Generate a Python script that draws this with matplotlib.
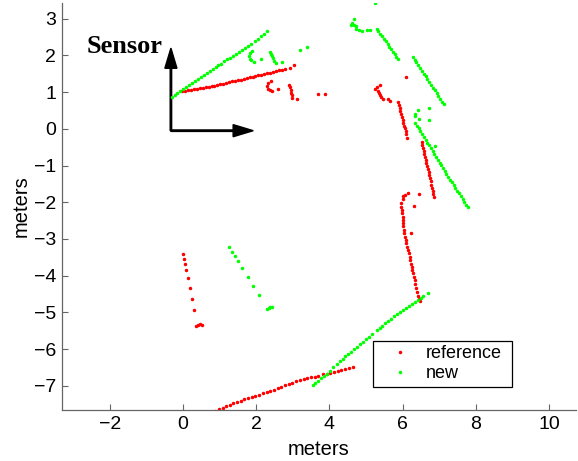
import numpy as np
import matplotlib.pyplot as plt

plt.rcParams['font.family'] = ['Liberation Sans', 'DejaVu Sans']

# scan points, reference scan (x, y in meters)
ref_points = [
    # wall seen straight ahead
    (-0.02, 1.02), (0.06, 1.03), (0.14, 1.05), (0.22, 1.06), (0.30, 1.08), (0.38, 1.09),
    (0.46, 1.10), (0.54, 1.12), (0.62, 1.13), (0.70, 1.15), (0.78, 1.16), (0.86, 1.18),
    (0.94, 1.20), (1.02, 1.22), (1.10, 1.23), (1.18, 1.25), (1.26, 1.27), (1.34, 1.29),
    (1.42, 1.31), (1.50, 1.33), (1.58, 1.34), (1.66, 1.36), (1.74, 1.38), (1.82, 1.40),
    (1.90, 1.42), (1.98, 1.44), (2.06, 1.46), (2.14, 1.48), (2.22, 1.50), (2.30, 1.51),
    (2.38, 1.53), (2.46, 1.55), (2.54, 1.57), (2.62, 1.59), (2.70, 1.61), (2.79, 1.63),
    (2.92, 1.67), (3.03, 1.73),
    # small arc and post
    (2.40, 1.30), (2.33, 1.24), (2.30, 1.16), (2.32, 1.09), (2.38, 1.05), (2.44, 1.04),
    (2.60, 1.08),
    (2.90, 1.20), (2.92, 1.13), (2.94, 1.06), (2.95, 0.99), (2.97, 0.92), (2.99, 0.85),
    (3.11, 0.81),
    (3.68, 0.94), (3.88, 0.94), (6.09, 1.41),
    # right side
    (5.38, 1.20), (5.30, 1.14), (5.25, 1.08), (5.33, 1.04), (5.36, 0.98), (5.37, 0.93),
    (5.40, 0.87), (5.46, 0.82), (5.59, 0.80), (5.67, 0.76),
    (5.88, 0.73), (5.90, 0.65), (5.92, 0.57), (5.94, 0.49), (5.96, 0.41), (5.98, 0.33),
    (6.00, 0.25), (6.02, 0.17), (6.04, 0.09), (6.06, 0.01), (6.08, -0.07), (6.10, -0.15),
    (6.13, -0.25),
    (6.52, -0.35), (6.54, -0.43), (6.56, -0.52), (6.58, -0.60), (6.59, -0.68), (6.61, -0.77),
    (6.63, -0.85), (6.65, -0.93), (6.67, -1.02), (6.69, -1.10), (6.71, -1.18), (6.73, -1.27),
    (6.75, -1.35), (6.77, -1.43), (6.78, -1.52), (6.80, -1.60), (6.82, -1.68), (6.84, -1.77),
    (6.86, -1.85),
    (6.14, -1.76), (6.06, -1.79), (6.02, -1.84), (6.00, -1.90), (6.45, -1.78), (6.30, -2.09),
    (6.23, -2.83),
    (5.96, -2.03), (5.97, -2.12), (5.98, -2.21), (5.99, -2.30), (6.00, -2.39), (6.00, -2.48),
    (6.01, -2.57), (6.02, -2.66), (6.03, -2.75), (6.04, -2.85), (6.06, -2.94), (6.08, -3.03),
    (6.10, -3.12), (6.12, -3.21), (6.14, -3.30), (6.17, -3.39), (6.19, -3.48), (6.21, -3.58),
    (6.23, -3.67), (6.25, -3.76), (6.27, -3.85), (6.28, -3.94), (6.30, -4.03), (6.33, -4.13),
    (6.35, -4.24), (6.38, -4.34), (6.40, -4.45), (6.43, -4.55), (6.46, -4.64), (6.48, -4.70),
    # lower left
    (-0.01, -3.41), (0.03, -3.55), (0.05, -3.69), (0.09, -3.85), (0.14, -4.05), (0.18, -4.34),
    (0.24, -4.63), (0.29, -4.93), (0.36, -5.37), (0.42, -5.34), (0.46, -5.33), (0.51, -5.35),
    # bottom wall
    (0.78, -7.72), (0.88, -7.68), (0.98, -7.64), (1.08, -7.60), (1.18, -7.56), (1.28, -7.51),
    (1.38, -7.47), (1.48, -7.44), (1.58, -7.41), (1.68, -7.37), (1.78, -7.34), (1.88, -7.31),
    (1.98, -7.28), (2.08, -7.25), (2.18, -7.21), (2.29, -7.18), (2.39, -7.14), (2.49, -7.11),
    (2.59, -7.07), (2.69, -7.03), (2.79, -6.99), (2.89, -6.96), (2.99, -6.92), (3.09, -6.88),
    (3.20, -6.84), (3.30, -6.82), (3.40, -6.79), (3.50, -6.77), (3.60, -6.75), (3.70, -6.72),
    (3.83, -6.69), (3.93, -6.67), (4.03, -6.64), (4.13, -6.62), (4.23, -6.59), (4.33, -6.57),
    (4.43, -6.55), (4.53, -6.52), (4.65, -6.49),
]

# scan points, new scan
new_points = [
    (-0.31, 0.88), (-0.23, 0.93), (-0.15, 0.99), (-0.07, 1.04), (0.01, 1.09), (0.09, 1.15),
    (0.17, 1.20), (0.25, 1.25), (0.33, 1.31), (0.41, 1.36), (0.49, 1.41), (0.57, 1.46),
    (0.65, 1.52), (0.73, 1.57), (0.81, 1.62), (0.89, 1.68), (0.97, 1.73), (1.05, 1.78),
    (1.13, 1.84), (1.21, 1.89), (1.29, 1.94), (1.37, 1.99), (1.45, 2.05), (1.53, 2.10),
    (1.61, 2.15), (1.69, 2.21), (1.77, 2.26), (1.85, 2.31), (1.97, 2.39), (2.05, 2.45),
    (2.13, 2.52), (2.21, 2.59), (2.29, 2.66),
    (1.89, 2.13), (1.82, 2.06), (1.80, 1.98), (1.82, 1.91), (1.85, 1.87), (1.95, 1.81),
    (2.12, 1.90),
    (2.38, 2.10), (2.41, 2.04), (2.44, 1.98), (2.47, 1.92), (2.50, 1.86), (2.54, 1.79),
    (2.70, 1.82),
    (3.20, 2.14), (3.38, 2.23),
    (5.26, 3.44), (4.67, 3.00), (4.61, 2.89), (4.59, 2.83), (4.68, 2.84), (4.72, 2.80),
    (4.74, 2.73), (4.81, 2.68), (4.88, 2.66), (5.02, 2.69), (5.11, 2.69),
    (5.29, 2.73), (5.34, 2.66), (5.39, 2.59), (5.44, 2.52), (5.49, 2.45), (5.54, 2.38),
    (5.59, 2.31), (5.63, 2.24), (5.68, 2.17), (5.73, 2.10), (5.78, 2.03), (5.83, 1.96),
    (5.88, 1.89),
    (6.28, 1.96), (6.33, 1.88), (6.38, 1.81), (6.43, 1.73), (6.48, 1.66), (6.53, 1.58),
    (6.58, 1.50), (6.63, 1.43), (6.68, 1.35), (6.73, 1.27), (6.78, 1.20), (6.83, 1.12),
    (6.88, 1.05), (6.93, 0.97), (6.98, 0.90), (7.03, 0.82), (7.08, 0.74), (7.13, 0.67),
    (6.72, 0.58), (6.71, 0.23), (6.41, 0.50), (6.34, 0.41), (6.33, 0.36), (6.44, 0.27),
    (6.89, -0.48),
    (6.34, 0.16), (6.39, 0.08), (6.44, 0.01), (6.48, -0.07), (6.53, -0.15), (6.58, -0.22),
    (6.63, -0.30), (6.68, -0.38), (6.72, -0.45), (6.77, -0.53), (6.82, -0.61), (6.87, -0.69),
    (6.92, -0.76), (6.96, -0.84), (7.01, -0.92), (7.06, -0.99), (7.11, -1.07), (7.16, -1.15),
    (7.20, -1.22), (7.25, -1.30), (7.30, -1.38), (7.35, -1.45), (7.40, -1.53), (7.44, -1.61),
    (7.49, -1.68), (7.54, -1.76), (7.59, -1.84), (7.64, -1.91), (7.68, -1.99), (7.73, -2.07),
    (7.78, -2.14),
    (1.27, -3.22), (1.34, -3.35), (1.42, -3.46), (1.51, -3.61), (1.62, -3.78), (1.77, -4.03),
    (1.92, -4.28), (2.08, -4.54), (2.30, -4.92), (2.34, -4.87), (2.38, -4.85), (2.43, -4.85),
    (3.54, -6.98), (3.62, -6.92), (3.70, -6.86), (3.78, -6.80), (3.86, -6.74), (3.93, -6.68),
    (4.01, -6.60), (4.10, -6.50), (4.20, -6.40), (4.28, -6.33), (4.36, -6.27), (4.44, -6.20),
    (4.52, -6.13), (4.60, -6.07), (4.68, -6.00), (4.76, -5.93), (4.84, -5.86), (4.92, -5.80),
    (5.00, -5.73), (5.08, -5.66), (5.16, -5.60), (5.29, -5.49), (5.37, -5.43), (5.45, -5.37),
    (5.53, -5.30), (5.61, -5.24), (5.69, -5.18), (5.77, -5.11), (5.85, -5.05), (5.93, -4.99),
    (6.01, -4.94), (6.09, -4.88), (6.17, -4.83), (6.25, -4.77), (6.33, -4.72), (6.41, -4.67),
    (6.49, -4.61), (6.57, -4.56), (6.70, -4.47),
]

x_ticks = [-2, 0, 2, 4, 6, 8, 10]
y_ticks = [-7, -6, -5, -4, -3, -2, -1, 0, 1, 2, 3]

sensor_origin = (-0.33, -0.05)
sensor_len = (2.25, 2.25)


def main():
    fig = plt.figure(figsize=(5.78, 4.61), dpi=100)
    ax = fig.add_axes([0.107, 0.1106, 0.889, 0.883])

    ref = np.array(ref_points)
    new = np.array(new_points)
    ax.plot(ref[:, 0], ref[:, 1], linestyle='none', marker='.', ms=3, color='#ff0000',
            label='reference')
    ax.plot(new[:, 0], new[:, 1], linestyle='none', marker='.', ms=3, color='#00ff00',
            label='new')

    # sensor frame
    ox, oy = sensor_origin
    ax.arrow(ox, oy, 0, sensor_len[1], width=0.04, head_width=0.33, head_length=0.55,
             length_includes_head=True, fc='k', ec='k')
    ax.arrow(ox, oy, sensor_len[0], 0, width=0.04, head_width=0.33, head_length=0.55,
             length_includes_head=True, fc='k', ec='k')
    ax.text(-2.63, 2.07, 'Sensor', family='Liberation Serif', weight='bold', fontsize=19,
            ha='left', va='baseline')

    ax.set_xlim(-3.31, 10.73)
    ax.set_ylim(-7.66, 3.43)
    ax.set_xticks(x_ticks)
    ax.set_yticks(y_ticks)
    ax.set_xlabel('meters', fontsize=14.5, labelpad=5)
    ax.set_ylabel('meters', fontsize=14.5, labelpad=2)
    ax.tick_params(direction='in', length=4, width=0.8, color='0.4', labelsize=14, pad=4)
    for side in ['top', 'right']:
        ax.spines[side].set_visible(False)
    for side in ['left', 'bottom']:
        ax.spines[side].set_color('0.4')
        ax.spines[side].set_linewidth(0.9)

    leg = ax.legend(loc='upper left', bbox_to_anchor=(0.605, 0.059, 0.272, 0.111),
                    mode='expand', borderaxespad=0, fontsize=13, fancybox=False,
                    edgecolor='k', framealpha=1, handlelength=2.47, handletextpad=0.2,
                    labelspacing=0.15, borderpad=0.25, markerscale=1)
    leg.get_frame().set_linewidth(0.9)

    fig.savefig('out.png', dpi=100)


if __name__ == "__main__":
    main()
